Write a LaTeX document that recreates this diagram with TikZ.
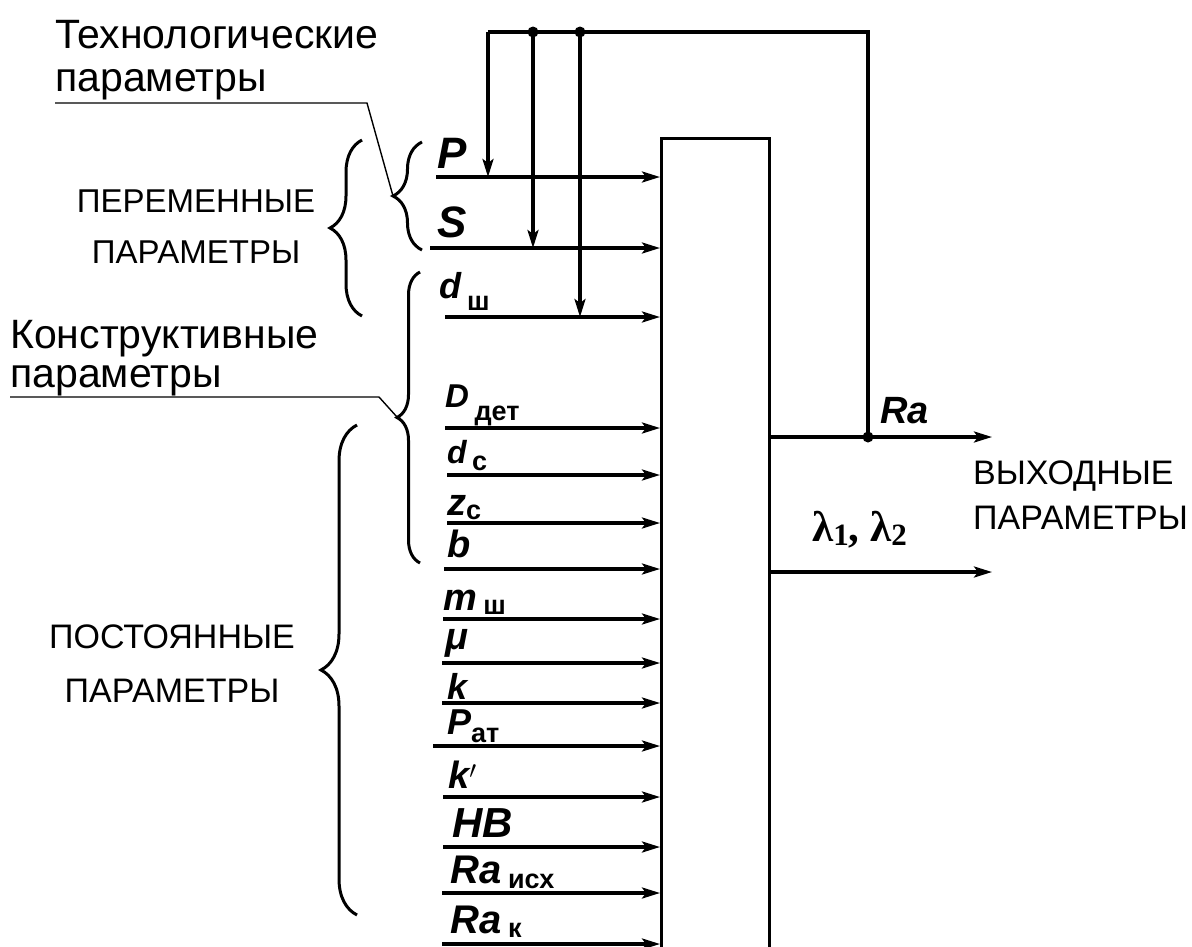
\documentclass[tikz,border=0pt]{standalone}
\usepackage{fontspec}
\setmainfont{Liberation Sans}
\newfontfamily\lamfont{Liberation Serif}
\usetikzlibrary{arrows.meta,decorations.pathreplacing,calc}

\newcommand{\fsz}[1]{\fontsize{#1}{#1}\selectfont}
\newcommand{\sub}[2]{\raisebox{-#1pt}{\normalfont\bfseries\fsz{27}#2}}

\begin{document}
\begin{tikzpicture}[
        x=1pt, y=-1pt,
        >={Stealth[length=18pt,width=11pt,inset=4pt]},
        line/.style={line width=3.2pt},
        arr/.style={line, ->},
        leader/.style={line width=1.4pt},
        curly/.style={line width=3pt, decorate,
                decoration={brace, amplitude=#1, aspect=0.5}},
        caption/.style={inner sep=0pt, align=center},
        inlbl/.style={inner sep=0pt, anchor=base west},
        junction/.style={circle, fill, inner sep=0pt, minimum size=11pt},
    ]
    \useasboundingbox (0,0) rectangle (1192,946);

    % the model block, open at the bottom edge
    \node[draw, line width=3.4pt, minimum width=108pt, minimum height=840pt,
        anchor=north west, inner sep=0pt] (model) at (660,137) {};

    % input lines: n / line y / start x
    \foreach \n/\ly/\sx in {1/177/436, 2/248/430, 3/317/445, 4/428/445, 5/475/447,
            6/523/447, 7/569/444, 8/619/443, 9/663/442, 10/703/442, 11/746/433,
            12/797/443, 13/847/443, 14/893/442, 15/944/442}{
        \coordinate (s\n) at (\sx,\ly);
        \draw[arr] (s\n) -- (s\n -| model.west);
    }

    % input labels
    \node[inlbl, font=\bfseries\itshape\fsz{44}] (lP) at (437,168) {P};
    \node[inlbl, font=\bfseries\itshape\fsz{44}] (lS) at (437,237) {S};
    \node[inlbl, font=\bfseries\itshape\fsz{36}] (ldsh) at (439,298) {d\,\sub{12}{ш}};
    \node[inlbl, font=\bfseries\itshape\fsz{33}] (lDdet) at (445,407) {D\,\sub{13}{дет}};
    \node[inlbl, font=\bfseries\itshape\fsz{32}] (ldc) at (447,463) {d\,\sub{7}{с}};
    \node[inlbl, font=\bfseries\itshape\fsz{38}] (lzc) at (447,515) {z\sub{4}{с}};
    \node[inlbl, font=\bfseries\itshape\fsz{38}] (lb) at (447,557) {b};
    \node[inlbl, font=\bfseries\itshape\fsz{38}] (lmsh) at (443,610) {m\,\sub{4}{ш}};
    \node[inlbl, font=\bfseries\itshape\fsz{38}] (lmu) at (445,649) {μ};
    \node[inlbl, font=\bfseries\itshape\fsz{36}] (lk) at (447,699) {k};
    \node[inlbl, font=\bfseries\itshape\fsz{36}] (lPat) at (447,734) {P\sub{8}{ат}};
    \node[inlbl, font=\bfseries\itshape\fsz{38}] (lkp) at (448,788) {k$'$};
    \node[inlbl, font=\bfseries\itshape\fsz{42}] (lHB) at (452,837) {HB};
    \node[inlbl, font=\bfseries\itshape\fsz{40}] (lRai) at (450,883) {Ra\,\sub{5}{исх}};
    \node[inlbl, font=\bfseries\itshape\fsz{40}] (lRak) at (450,933) {Ra\,\sub{4}{к}};

    % outputs
    \coordinate (oRa) at (992,437);
    \coordinate (oLam) at (992,572);
    \draw[arr] (model.east |- oRa) -- (oRa);
    \draw[arr] (model.east |- oLam) -- (oLam);
    \node[inlbl, font=\bfseries\itshape\fsz{38}] (lRa) at (880,423) {Ra};
    \node[inlbl, font=\lamfont\bfseries\fsz{43}] (llam) at (812,541)
        {λ\raisebox{-4pt}{\fsz{31}1}, λ\raisebox{-4pt}{\fsz{31}2}};
    \node[caption, align=left, anchor=north west, font=\fsz{34}] (out) at (973,461)
        {ВЫХОДНЫЕ\\[11pt]ПАРАМЕТРЫ};

    % feedback of Ra to the variable parameters
    \node[junction] (tap) at (868,437) {};
    \node[junction] (j2) at (533,32) {};
    \node[junction] (j3) at (580,32) {};
    \coordinate (topR) at (868,32);
    \coordinate (topL) at (488,32);
    \draw[line] (tap.center) -- (topR) -- (topL);
    \draw[arr] (topL) -- (topL |- s1);
    \draw[arr] (j2.center) -- (j2 |- s2);
    \draw[arr] (j3.center) -- (j3 |- s3);

    % braces
    \draw[curly=29pt] (422,250) -- (422,142);
    \coordinate (techTip) at (393,196);
    \draw[curly=32pt] (362,316) -- (362,140);
    \draw[curly=23pt] (420,563) -- (420,272);
    \coordinate (konTip) at (397,417);
    \draw[curly=36pt] (357,915) -- (357,425);

    % group captions
    \node[caption, anchor=north west, align=left, font=\fsz{41}] (tech) at (55,20)
        {Технологические\\[2pt]параметры};
    \coordinate (techL) at (55,103);
    \coordinate (techK) at (367,103);
    \draw[leader] (techL) -- (techK) -- (techTip);

    \node[caption, anchor=north west, align=left, font=\fsz{41}] (kon) at (10,320)
        {Конструктивные\\[-2pt]параметры};
    \coordinate (konL) at (10,397);
    \coordinate (konK) at (379,397);
    \draw[leader] (konL) -- (konK) -- (konTip);

    \node[caption, font=\fsz{33}] (var) at (196,227) {ПЕРЕМЕННЫЕ\\[18pt]ПАРАМЕТРЫ};
    \node[caption, font=\fsz{34}] (const) at (172,664) {ПОСТОЯННЫЕ\\[20pt]ПАРАМЕТРЫ};
\end{tikzpicture}
\end{document}
